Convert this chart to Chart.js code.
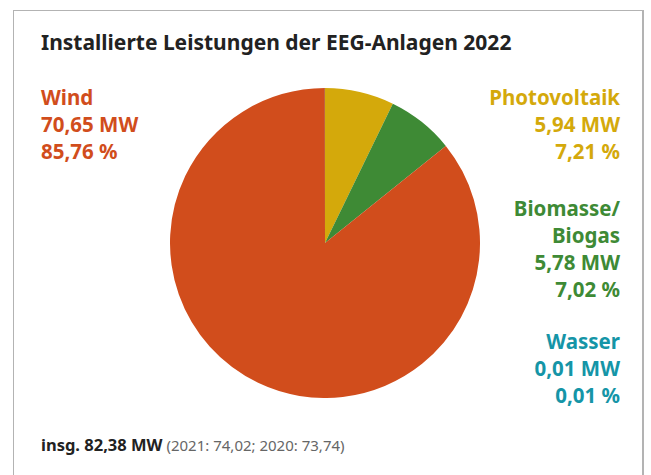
<!DOCTYPE html>
<html>
<head>
<meta charset="utf-8">
<script src="https://cdn.jsdelivr.net/npm/chart.js@4"></script>
<style>
  body { margin: 0; background: #fff; font-family: "Noto Sans", sans-serif; }
  #wrap { position: relative; width: 651px; height: 475px; overflow: hidden; }
  #frame { position: absolute; left: 13px; top: 10px; width: 631px; height: 480px;
           border: 1px solid #b3b3b3; border-right-width: 2px; box-sizing: border-box; }
  #title { position: absolute; left: 41px; top: 27px; font-size: 21px; line-height: 30px; font-weight: bold; color: #222; white-space: nowrap; }
  .lbl { position: absolute; font-size: 20.5px; font-weight: bold; line-height: 27px; white-space: nowrap; }
  .right { text-align: right; right: 31px; }
  #footer { position: absolute; left: 41px; top: 434px; font-size: 15px; line-height: 22px; color: #666; white-space: nowrap; }
  #footer b { color: #222; font-size: 16.5px; }
  #pie { position: absolute; left: 170px; top: 88px; }
</style>
</head>
<body>
<div id="wrap">
  <div id="frame"></div>
  <div id="title">Installierte Leistungen der EEG-Anlagen 2022</div>
  <canvas id="pie" width="310" height="310"></canvas>
  <div id="labels"></div>
  <div id="footer"><b>insg. 82,38 MW</b> (2021: 74,02; 2020: 73,74)</div>
</div>
<script>
// Werte 2022 in MW, Reihenfolge im Uhrzeigersinn ab 12 Uhr
const categories = ['Photovoltaik', 'Biomasse/\nBiogas', 'Wind', 'Wasser'];
const values = [5.94, 5.78, 70.65, 0.01];
const shares = ['7,21', '7,02', '85,76', '0,01'];
const colors = ['#d4a90b', '#3e8a35', '#d14d1c', '#1595a7'];

// Beschriftung: Position je Kategorie
const labelPos = [
    { side: 'right', top: 84 },
    { side: 'right', top: 195 },
    { side: 'left', top: 84 },
    { side: 'right', top: 328 }
];

const labelBox = document.getElementById('labels');
categories.forEach((cat, i) => {
    let div = document.createElement('div');
    div.className = 'lbl' + (labelPos[i].side === 'right' ? ' right' : '');
    if (labelPos[i].side === 'left') div.style.left = '41px';
    div.style.top = labelPos[i].top + 'px';
    div.style.color = colors[i];
    let mw = values[i].toFixed(2).replace('.', ',');
    div.innerHTML = cat.split('\n').join('<br>') + '<br>' + mw + ' MW<br>' + shares[i] + ' %';
    labelBox.appendChild(div);
});

var ctx = document.getElementById('pie').getContext('2d');
var pieChart = new Chart(ctx, {
    type: 'pie',
    data: {
        labels: categories,
        datasets: [{
            data: values,
            backgroundColor: colors,
            borderWidth: 0
        }]
    },
    options: {
        responsive: false,
        animation: false,
        layout: { padding: 0 },
        plugins: {
            legend: { display: false },
            tooltip: { enabled: false }
        }
    }
});
</script>
</body>
</html>
